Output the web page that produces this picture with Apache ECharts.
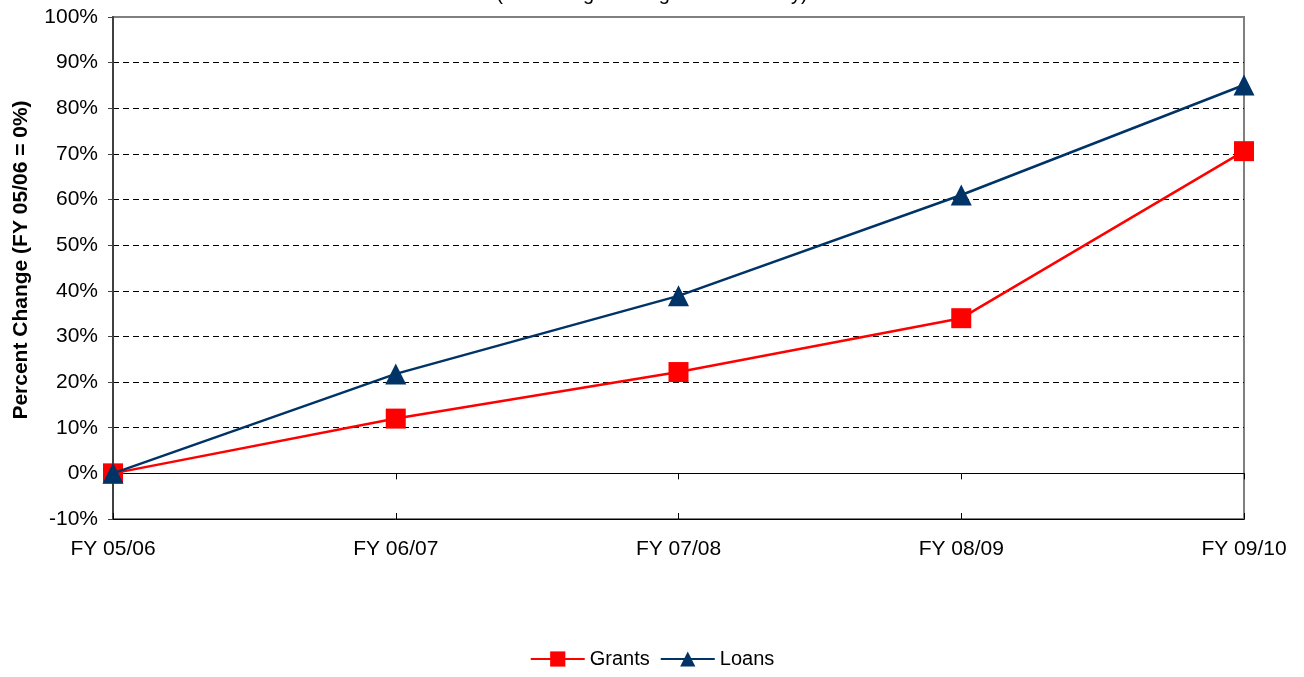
<!DOCTYPE html>
<html>
<head>
<meta charset="utf-8">
<script src="https://cdn.jsdelivr.net/npm/echarts@6/dist/echarts.min.js"></script>
<style>
    html, body { margin: 0; padding: 0; background: #fff; }
    #chart { width: 1304px; height: 677px; }
</style>
</head>
<body>
<div id="chart"></div>
<script>
// 年度
var years = ['FY 05/06', 'FY 06/07', 'FY 07/08', 'FY 08/09', 'FY 09/10'];
// 累计变化 (%)
var grants = [0, 12, 22.2, 34, 70.6];
var loans = [0, 21.8, 38.9, 61, 85.1];

var font = 'Arial, "Liberation Sans", sans-serif';

var chart = echarts.init(document.getElementById('chart'));
var option = {
    animation: false,
    title: {
        text: '(Percentage Change Cumulatively)',
        left: 'center',
        top: -21,
        textStyle: { fontFamily: font, fontSize: 20, fontWeight: 'normal', color: '#000' }
    },
    grid: {
        left: 113,
        right: 60,
        top: 17,
        bottom: 158,
        show: true,
        borderColor: '#808080',
        borderWidth: 2
    },
    legend: {
        bottom: 3,
        left: 'center',
        itemWidth: 54,
        itemHeight: 19,
        itemGap: 10,
        textStyle: { fontFamily: font, fontSize: 20, color: '#000' },
        data: ['Grants', 'Loans']
    },
    xAxis: [{
        type: 'category',
        data: years,
        boundaryGap: false,
        axisLine: { show: false, onZero: false },
        axisTick: { show: false },
        axisLabel: { fontFamily: font, fontSize: 21, color: '#000', margin: 20 }
    }, {
        // 零线，刻度向下
        type: 'category',
        data: years,
        boundaryGap: false,
        position: 'bottom',
        axisLine: { onZero: true, lineStyle: { color: '#000', width: 1 } },
        axisTick: { show: true, length: 6, lineStyle: { color: '#000' } },
        axisLabel: { show: false }
    }, {
        // 零线，刻度向上
        type: 'category',
        data: years,
        boundaryGap: false,
        position: 'bottom',
        axisLine: { onZero: true, lineStyle: { color: '#000', width: 1 } },
        axisTick: { show: true, inside: true, length: 6, lineStyle: { color: '#000' } },
        axisLabel: { show: false }
    }],
    yAxis: {
        type: 'value',
        min: -10,
        max: 100,
        interval: 10,
        name: 'Percent Change (FY 05/06 = 0%)',
        nameLocation: 'middle',
        nameGap: 81,
        nameTextStyle: {
            fontFamily: font, fontSize: 21, fontWeight: 'bold', color: '#000',
            padding: [0, 0, 0, 16]
        },
        axisLine: { show: true, lineStyle: { color: '#404040', width: 2 } },
        axisTick: { show: true, length: 5, lineStyle: { color: '#404040' } },
        axisLabel: { fontFamily: font, fontSize: 21, color: '#000', margin: 15, formatter: '{value}%' },
        splitLine: {
            show: true,
            showMinLine: false,
            showMaxLine: false,
            lineStyle: { color: '#000', type: [6, 4], width: 1 }
        }
    },
    series: [{
        name: 'Grants',
        type: 'line',
        data: grants,
        symbol: 'rect',
        symbolSize: 20,
        color: '#ff0000',
        lineStyle: { color: '#ff0000', width: 2.5 },
        itemStyle: { color: '#ff0000' },
        z: 3
    }, {
        name: 'Loans',
        type: 'line',
        data: loans,
        symbol: 'triangle',
        symbolSize: 21,
        color: '#003366',
        lineStyle: { color: '#003366', width: 2.5 },
        itemStyle: { color: '#003366' },
        z: 4
    }]
};
chart.setOption(option);
</script>
</body>
</html>
